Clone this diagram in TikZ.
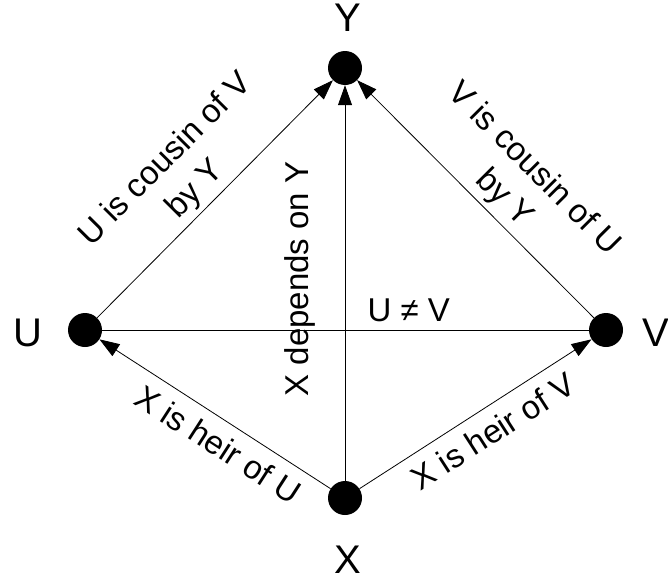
\documentclass[tikz,border=0pt]{standalone}
\usepackage{fontspec}
\setmainfont{Liberation Sans}
\usetikzlibrary{arrows.meta}

\begin{document}
\begin{tikzpicture}[
    x=1pt, y=-1pt,
    dot/.style={circle, fill=black, inner sep=0pt, minimum size=34pt},
    tag/.style={font=\fontsize{40}{44}\selectfont},
    rel/.style={font=\fontsize{33}{42}\selectfont, align=center},
    arr/.style={-{Triangle[length=20pt,width=14pt]}, line width=0.8pt},
]
\useasboundingbox (0,0) rectangle (668,581);

% Variables as filled dots
\node[dot] (Y) at (345,68) {};
\node[dot] (U) at (85,330) {};
\node[dot] (V) at (606,330) {};
\node[dot] (X) at (345,498) {};

% Names of the variables
\node[tag] (Ylab) at (348,18) {Y};
\node[tag] (Ulab) at (28,333) {U};
\node[tag] (Vlab) at (656,333) {V};
\node[tag] (Xlab) at (348,560) {X};

% Relations between them
\draw[arr] (U) -- (Y) node[pos=0.48, sloped, above=1pt, rel] {U is cousin of V\\by Y};
\draw[arr] (V) -- (Y) node[pos=0.44, sloped, above=1pt, rel] {V is cousin of U\\by Y};
\draw[arr] (X) -- (Y) node[pos=0.51, sloped, above=26pt, rel] {X depends on Y};
\draw[line width=0.8pt] (U) -- (V) node[pos=0.63, above=4pt, rel] {U ≠ V};
\draw[arr] (X) -- (U) node[pos=0.43, sloped, below=8pt, rel] {X is heir of U};
\draw[arr] (X) -- (V) node[pos=0.52, sloped, below=8pt, rel] {X is heir of V};

\end{tikzpicture}
\end{document}
